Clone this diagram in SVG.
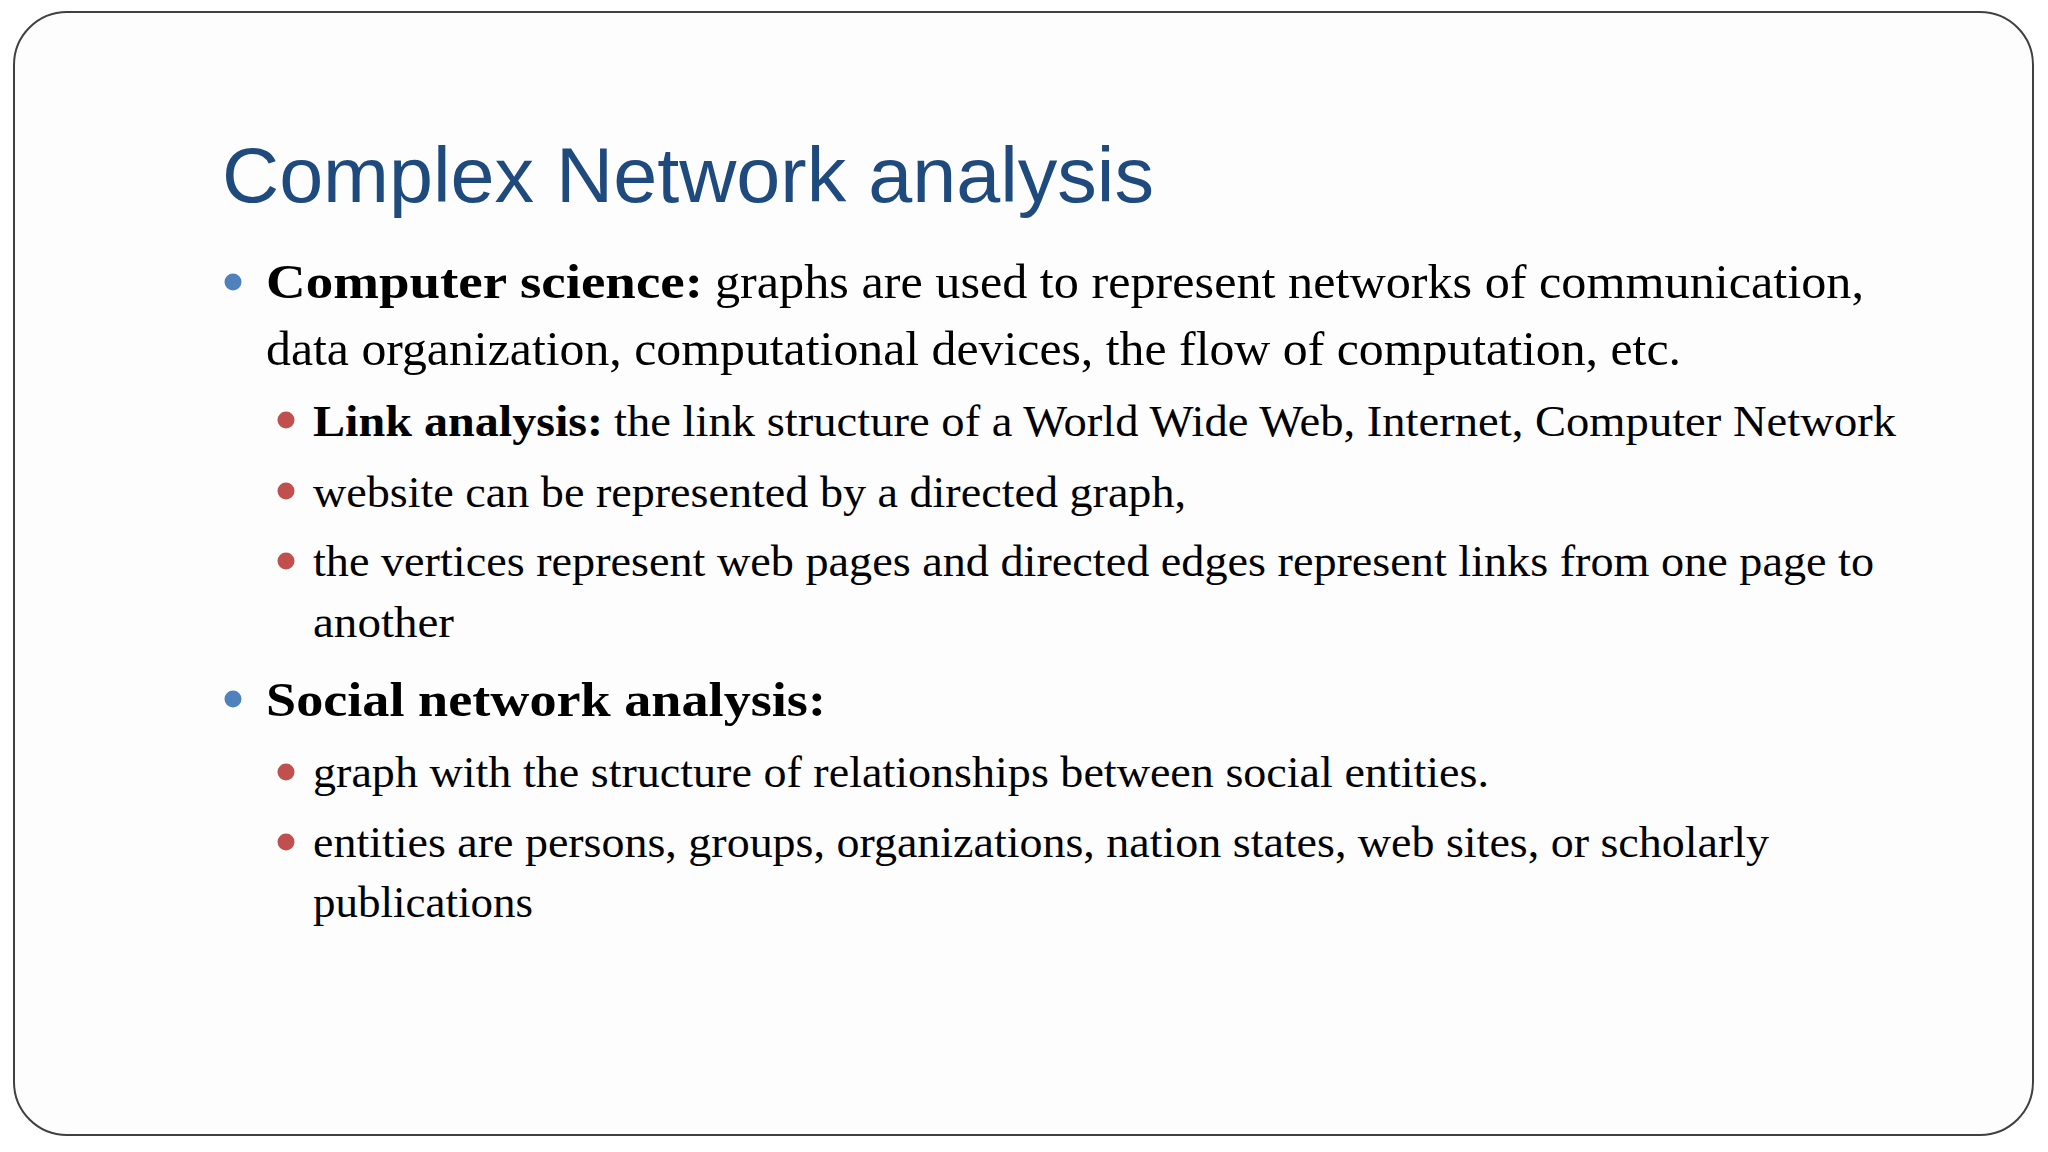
<svg xmlns="http://www.w3.org/2000/svg" width="2048" height="1152" viewBox="0 0 2048 1152">
  <style>
    .title { font-family: "Liberation Sans", Arial, sans-serif; font-size: 78px; fill: #1F4A7E; }
    .l1 { font-family: "Liberation Serif", "Times New Roman", serif; font-size: 48px; fill: #000000; }
    .l2 { font-family: "Liberation Serif", "Times New Roman", serif; font-size: 44px; fill: #000000; }
    .b { font-weight: bold; }
    .blue { fill: #4F81BD; }
    .red { fill: #C0504D; }
  </style>
  <rect x="0" y="0" width="2048" height="1152" fill="#ffffff"/>
  <rect id="frame" x="14" y="12" width="2019" height="1123" rx="53" ry="53" fill="#fdfdfe" stroke="#404040" stroke-width="2"/>

  <g id="title">
    <text class="title" x="222" y="202" textLength="932" lengthAdjust="spacingAndGlyphs">Complex Network analysis</text>
  </g>

  <g id="bullet-computer-science">
    <circle class="blue" cx="233" cy="282" r="8.5"/>
    <text class="l1 b" x="266" y="298" textLength="437" lengthAdjust="spacingAndGlyphs">Computer science:</text>
    <text class="l1" x="715" y="298" textLength="1149" lengthAdjust="spacingAndGlyphs">graphs are used to represent networks of communication,</text>
    <text class="l1" x="266" y="365" textLength="1415" lengthAdjust="spacingAndGlyphs">data organization, computational devices, the flow of computation, etc.</text>
  </g>

  <g id="sub-link-analysis">
    <circle class="red" cx="286" cy="420" r="8.5"/>
    <text class="l2 b" x="313" y="436" textLength="290" lengthAdjust="spacingAndGlyphs">Link analysis:</text>
    <text class="l2" x="614" y="436" textLength="1282" lengthAdjust="spacingAndGlyphs">the link structure of a World Wide Web, Internet, Computer Network</text>
  </g>

  <g id="sub-website">
    <circle class="red" cx="286" cy="491" r="8.5"/>
    <text class="l2" x="313" y="507" textLength="873" lengthAdjust="spacingAndGlyphs">website can be represented by a directed graph,</text>
  </g>

  <g id="sub-vertices">
    <circle class="red" cx="286" cy="561" r="8.5"/>
    <text class="l2" x="313" y="576" textLength="1561" lengthAdjust="spacingAndGlyphs">the vertices represent web pages and directed edges represent links from one page to</text>
    <text class="l2" x="313" y="637" textLength="141" lengthAdjust="spacingAndGlyphs">another</text>
  </g>

  <g id="bullet-social">
    <circle class="blue" cx="233" cy="699" r="8.5"/>
    <text class="l1 b" x="266" y="716" textLength="560" lengthAdjust="spacingAndGlyphs">Social network analysis:</text>
  </g>

  <g id="sub-graph">
    <circle class="red" cx="286" cy="772" r="8.5"/>
    <text class="l2" x="313" y="787" textLength="1176" lengthAdjust="spacingAndGlyphs">graph with the structure of relationships between social entities.</text>
  </g>

  <g id="sub-entities">
    <circle class="red" cx="286" cy="842" r="8.5"/>
    <text class="l2" x="313" y="857" textLength="1456" lengthAdjust="spacingAndGlyphs">entities are persons, groups, organizations, nation states, web sites, or scholarly</text>
    <text class="l2" x="313" y="917" textLength="220" lengthAdjust="spacingAndGlyphs">publications</text>
  </g>

  <g id="connectors"></g>
</svg>
